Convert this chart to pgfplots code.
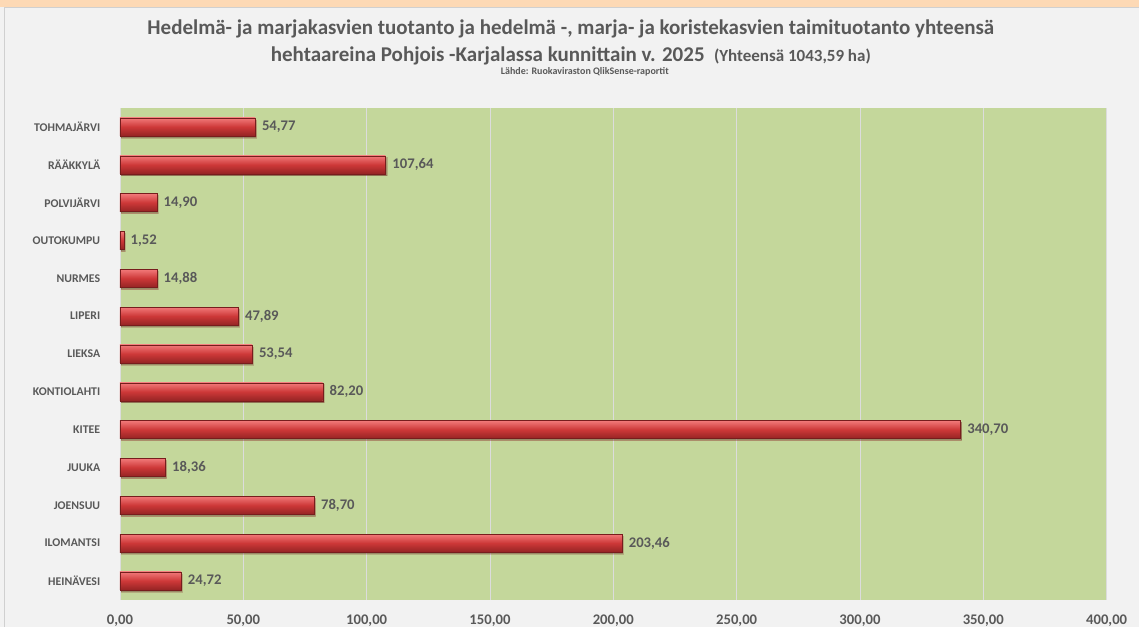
\documentclass[border=0pt]{standalone}
\usepackage{pgfplots}
\pgfplotsset{compat=1.18}
\usepackage{fontspec}
\setmainfont{Carlito}
\definecolor{bg}{HTML}{F2F2F2}
\definecolor{strip}{HTML}{FDD9B5}
\definecolor{frame}{HTML}{D0D0D0}
\definecolor{plotbg}{HTML}{C4D79B}
\definecolor{txt}{HTML}{595959}
\definecolor{gridc}{HTML}{DCDCDC}
\definecolor{barlight}{HTML}{F27A7A}
\definecolor{barmid}{HTML}{CD3838}
\definecolor{bardark}{HTML}{952424}
\pgfplotsset{redbar/.style={draw=bardark!80!black, line width=0.3pt, bar shift=0pt,
  preaction={fill=black, opacity=0.22, transform canvas={xshift=1.2pt,yshift=-1.8pt}},
  top color=barlight, bottom color=bardark, middle color=barmid}}
\begin{document}
\begin{tikzpicture}[x=1pt,y=1pt]
\fill[bg] (0,0) rectangle (1139,627);
\fill[strip] (0,620) rectangle (1139,627);
\draw[frame, line width=0.8pt] (4.5,0) -- (4.5,619.5) -- (1139,619.5);
\node[txt, inner sep=0pt, anchor=base, font=\bfseries\fontsize{21}{22}\selectfont] at (571,592) {Hedelmä- ja marjakasvien tuotanto ja hedelmä -, marja- ja koristekasvien taimituotanto yhteensä};
\node[txt, inner sep=0pt, anchor=base, font=\bfseries\fontsize{21}{22}\selectfont] at (571,565.5) {hehtaareina Pohjois -Karjalassa kunnittain v. 2025\ \ {\fontsize{17}{18}\selectfont (Yhteensä 1043,59 ha)}};
\node[txt, inner sep=0pt, anchor=base, font=\bfseries\fontsize{10}{11}\selectfont] at (585,552) {Lähde: Ruokaviraston QlikSense-raportit};
\begin{axis}[
  at={(120pt,27pt)}, anchor=south west,
  width=987pt, height=492pt, scale only axis,
  xbar, bar width=18pt, bar shift=0pt,
  xmin=0, xmax=400, ymin=-0.5, ymax=12.5,
  axis background/.style={fill=plotbg},
  axis line style={draw=none},
  major tick style={draw=none},
  xmajorgrids, major grid style={draw=gridc, line width=0.9pt},
  xtick={0,50,...,400},
  ytick={0,...,12},
  yticklabels={HEINÄVESI,ILOMANTSI,JOENSUU,JUUKA,KITEE,KONTIOLAHTI,LIEKSA,LIPERI,NURMES,OUTOKUMPU,POLVIJÄRVI,RÄÄKKYLÄ,TOHMAJÄRVI},
  yticklabel style={font=\bfseries\fontsize{11.8}{12}\selectfont, text=txt, xshift=-12pt},
  xticklabel style={font=\bfseries\fontsize{14.7}{15}\selectfont, text=txt, yshift=-12pt},
  xticklabel={\pgfmathprintnumber[fixed,fixed zerofill,precision=2,use comma,assume math mode=true]{\tick}},
  point meta=x,
  nodes near coords={\pgfmathprintnumber[fixed,fixed zerofill,precision=2,use comma,assume math mode=true]{\pgfplotspointmeta}},
  nodes near coords style={font=\bfseries\fontsize{14.7}{15}\selectfont, text=txt, anchor=west, xshift=3.5pt},
  clip=false,
]
\addplot[redbar] coordinates {(24.72,0)};
\addplot[redbar] coordinates {(203.46,1)};
\addplot[redbar] coordinates {(78.70,2)};
\addplot[redbar] coordinates {(18.36,3)};
\addplot[redbar] coordinates {(340.70,4)};
\addplot[redbar] coordinates {(82.20,5)};
\addplot[redbar] coordinates {(53.54,6)};
\addplot[redbar] coordinates {(47.89,7)};
\addplot[redbar] coordinates {(14.88,8)};
\addplot[redbar] coordinates {(1.52,9)};
\addplot[redbar] coordinates {(14.90,10)};
\addplot[redbar] coordinates {(107.64,11)};
\addplot[redbar] coordinates {(54.77,12)};
\end{axis}
\end{tikzpicture}
\end{document}
